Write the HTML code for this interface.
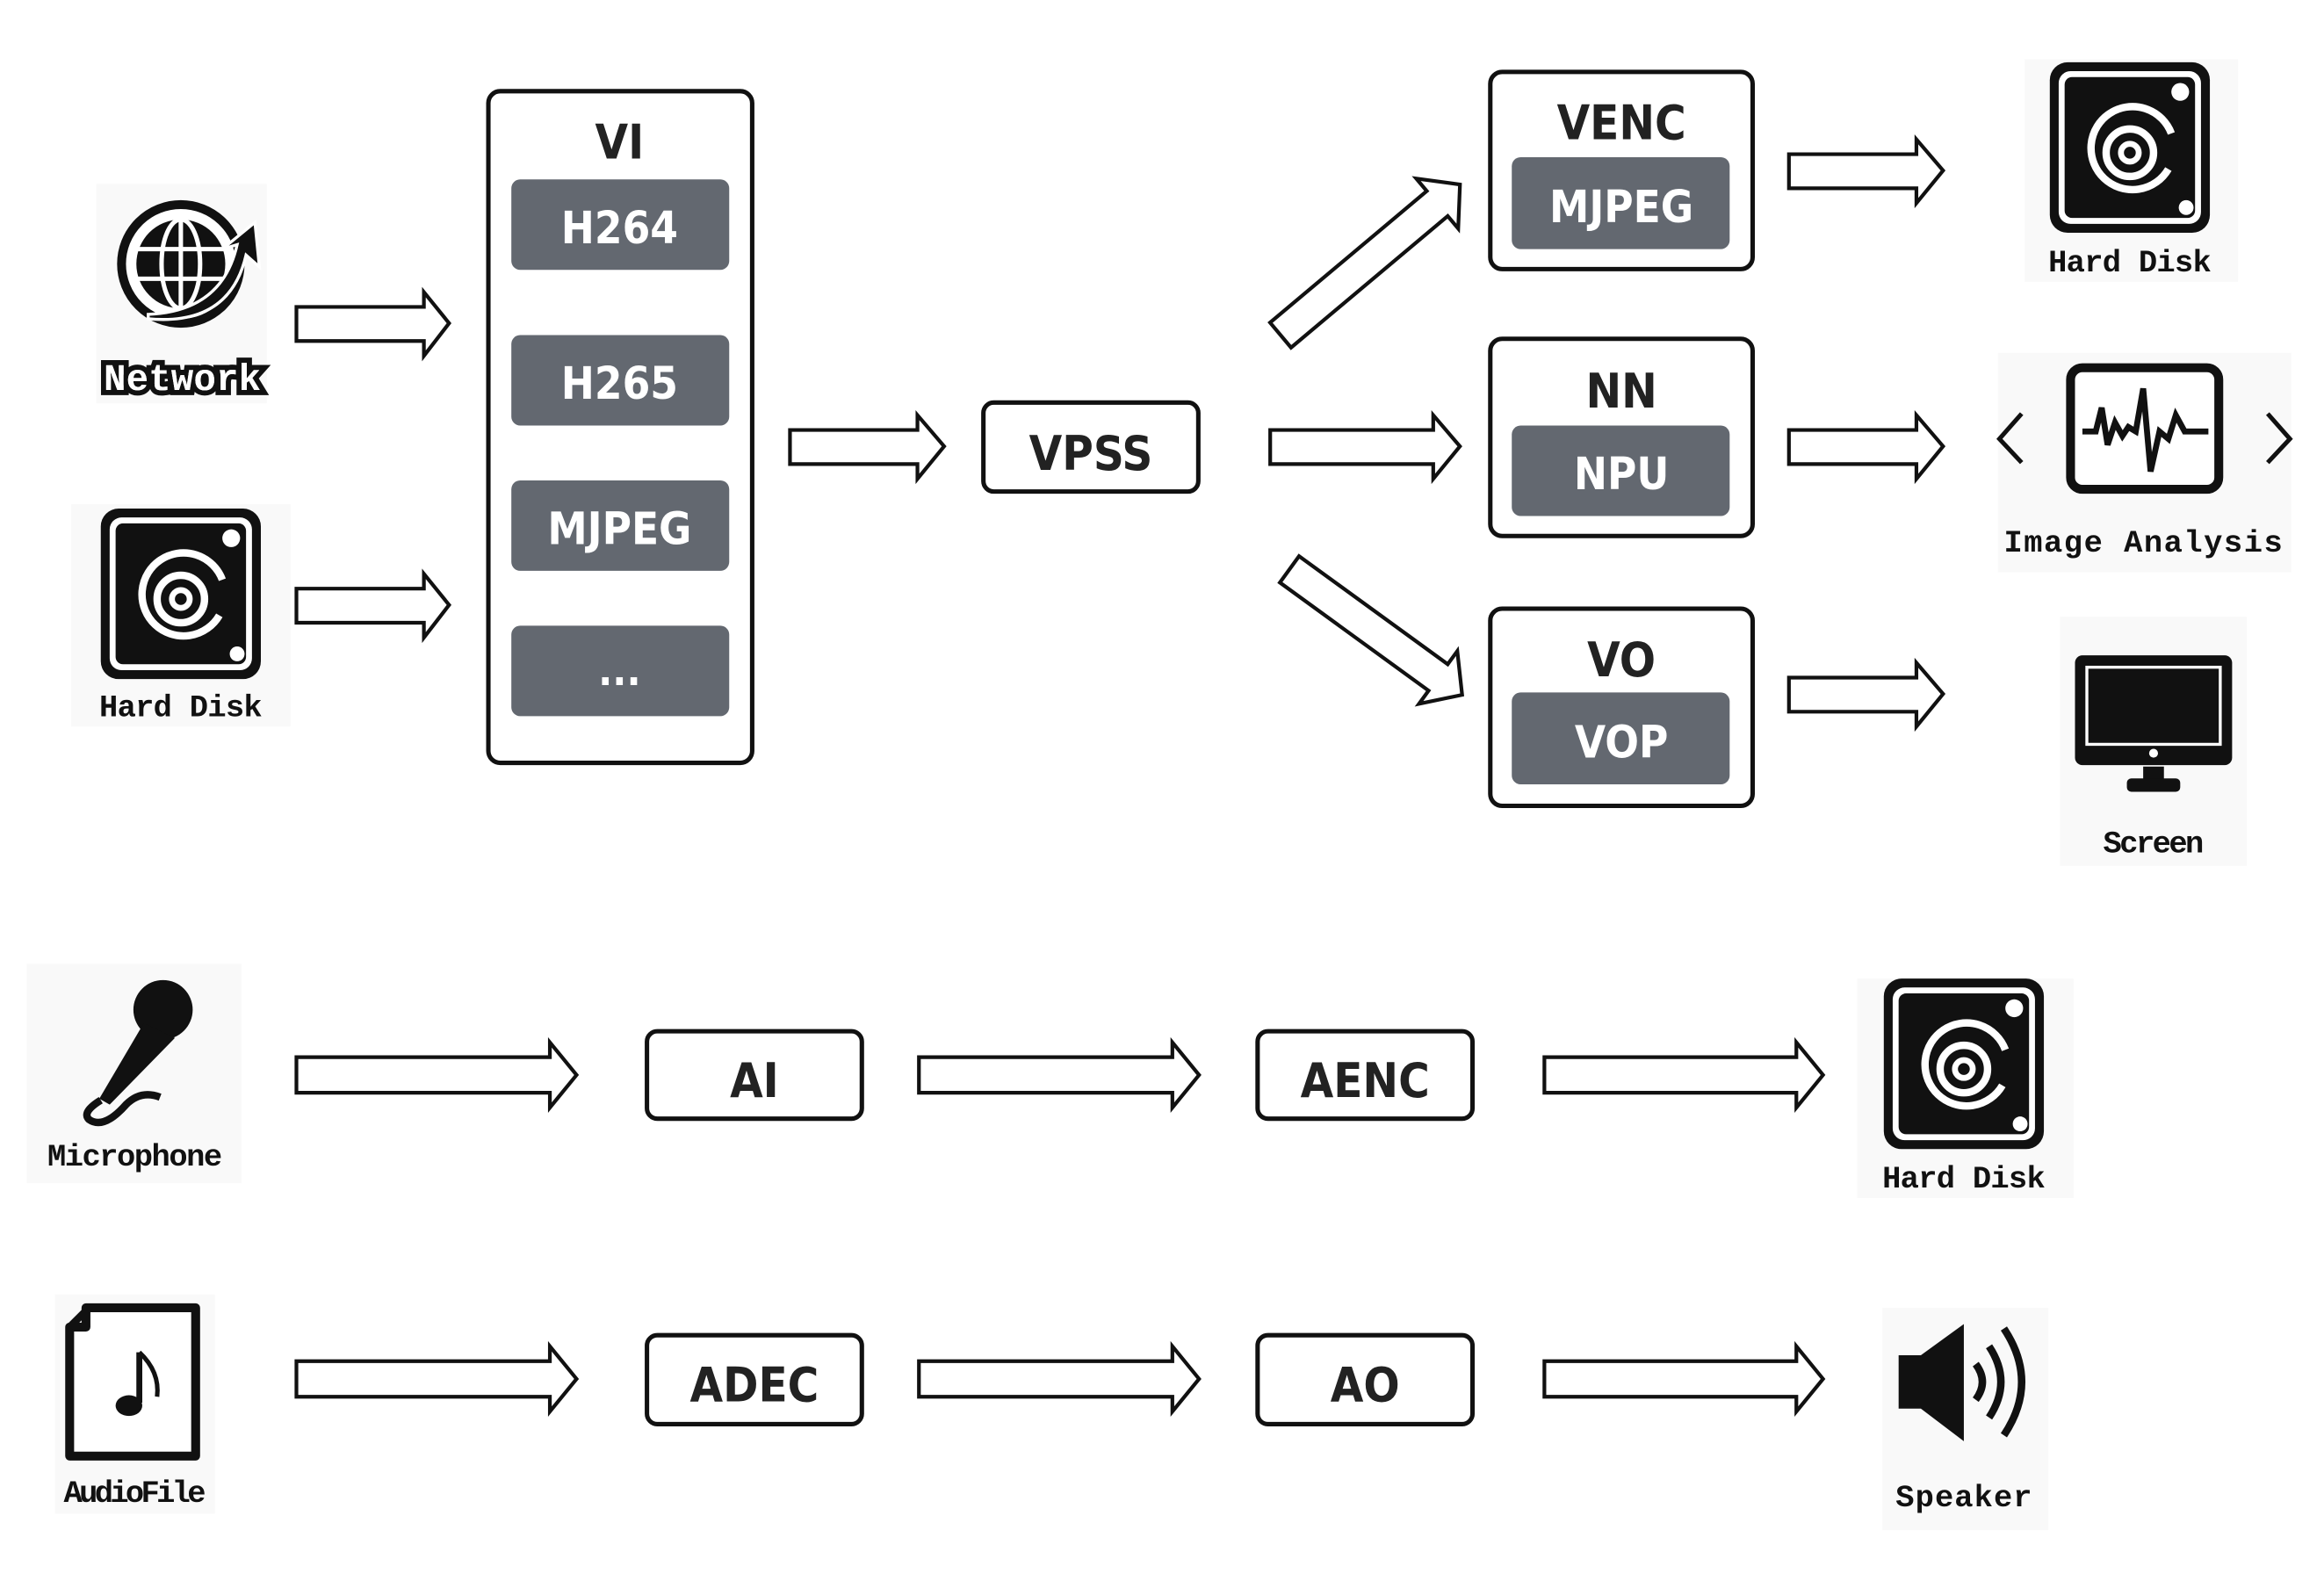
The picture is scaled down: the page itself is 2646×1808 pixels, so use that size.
<!DOCTYPE html>
<html><head><meta charset="utf-8"><style>
html,body{margin:0;padding:0;background:#fff;}
svg{display:block;}
.bx{fill:#fff;stroke:#111;stroke-width:3;}
.gb{fill:#636870;}
.t{font-family:"DejaVu Sans","Liberation Sans",sans-serif;font-weight:bold;text-anchor:middle;font-stretch:condensed;}
.lb{font-family:"Liberation Mono","DejaVu Sans Mono",monospace;font-weight:bold;text-anchor:middle;fill:#111;font-size:21px;}
.ar{fill:#fff;stroke:#111;stroke-width:2.5;stroke-linejoin:miter;}
.bgc{fill:#f9f9f9;}
</style></head><body>
<svg width="2646" height="1808" viewBox="0 0 1568 1071" preserveAspectRatio="none" xmlns="http://www.w3.org/2000/svg">
<defs>
<g id="hd">
  <rect x="0" y="0" width="108" height="115" rx="12" fill="#111"/>
  <rect x="6" y="6" width="96" height="103" rx="8" fill="#fff"/>
  <rect x="10" y="10" width="88" height="95" rx="5" fill="#111"/>
  <circle cx="88" cy="20" r="6" fill="#fff"/>
  <circle cx="92" cy="98" r="5" fill="#fff"/>
  <path d="M80,72 A28,28 0 1 1 82,48" fill="none" stroke="#fff" stroke-width="5"/>
  <circle cx="54" cy="61" r="16" fill="none" stroke="#fff" stroke-width="5"/>
  <circle cx="54" cy="61" r="6" fill="none" stroke="#fff" stroke-width="4"/>
</g>
</defs>

<rect class="bgc" x="65" y="124" width="115" height="148"/>
<rect class="bgc" x="48" y="340" width="148" height="150"/>
<rect class="bgc" x="1366" y="40" width="144" height="150"/>
<rect class="bgc" x="1348" y="238" width="198" height="148"/>
<rect class="bgc" x="1390" y="416" width="126" height="168"/>
<rect class="bgc" x="18" y="650" width="145" height="148"/>
<rect class="bgc" x="1253" y="660" width="146" height="148"/>
<rect class="bgc" x="37" y="873" width="108" height="148"/>
<rect class="bgc" x="1270" y="882" width="112" height="150"/>

<g>
  <circle cx="122" cy="178" r="40" fill="#fff" stroke="#111" stroke-width="6"/>
  <circle cx="122" cy="178" r="30" fill="#111"/>
  <g stroke="#fff" stroke-width="3" fill="none">
    <ellipse cx="122" cy="178" rx="13" ry="30"/>
    <line x1="122" y1="148" x2="122" y2="208"/>
    <line x1="93" y1="168" x2="151" y2="168"/>
    <line x1="93" y1="188" x2="151" y2="188"/>
  </g>
  <path d="M100,212 Q150,210 160,165 L150,168 L172,150 L175,180 L166,172 Q155,220 100,215 Z" fill="#111" stroke="#fff" stroke-width="2"/>
  <text x="123" y="263" font-family="Liberation Mono,monospace" font-weight="bold" font-size="25" text-anchor="middle" fill="#fff" stroke="#111" stroke-width="7" paint-order="stroke" textLength="106">Network</text>
  <text x="123" y="263" font-family="Liberation Mono,monospace" font-weight="bold" font-size="25" text-anchor="middle" fill="#fff" textLength="106">Network</text>
</g>

<use href="#hd" x="68" y="343"/>
<text class="lb" x="122" y="483" textLength="110">Hard Disk</text>

<polygon class="ar" points="200,207 286,207 286,197 303,218 286,240 286,230 200,230"/>
<polygon class="ar" points="200,397 286,397 286,387 303,408 286,430 286,420 200,420"/>
<polygon class="ar" points="533,290 619,290 619,280 637,301 619,323 619,313 533,313"/>
<polygon class="ar" points="857,290 967,290 967,280 985,301 967,323 967,313 857,313"/>
<polygon class="ar" points="1207,104 1293,104 1293,94 1311,115 1293,137 1293,127 1207,127"/>
<polygon class="ar" points="1207,290 1293,290 1293,280 1311,301 1293,323 1293,313 1207,313"/>
<polygon class="ar" points="1207,457 1293,457 1293,447 1311,468 1293,490 1293,480 1207,480"/>
<g transform="translate(864,226) rotate(-40)">
  <polygon class="ar" points="0,-11 138,-11 138,-22 158,0 138,22 138,11 0,11"/>
</g>
<g transform="translate(870,384) rotate(36)">
  <polygon class="ar" points="0,-11 124,-11 124,-22 144,0 124,22 124,11 0,11"/>
</g>
<polygon class="ar" points="200,713 371,713 371,703 389,725 371,747 371,737 200,737"/>
<polygon class="ar" points="620,713 791,713 791,703 809,725 791,747 791,737 620,737"/>
<polygon class="ar" points="1042,713 1212,713 1212,703 1230,725 1212,747 1212,737 1042,737"/>
<polygon class="ar" points="200,918 371,918 371,908 389,930 371,952 371,942 200,942"/>
<polygon class="ar" points="620,918 791,918 791,908 809,930 791,952 791,942 620,942"/>
<polygon class="ar" points="1042,918 1212,918 1212,908 1230,930 1212,952 1212,942 1042,942"/>

<rect class="bx" x="329.5" y="61.5" width="178" height="453" rx="8"/>
<text class="t" x="418" y="107" font-size="32" fill="#222">VI</text>
<rect class="gb" x="345" y="121" width="147" height="61" rx="6"/>
<text class="t" x="418" y="164" font-size="30" fill="#fff">H264</text>
<rect class="gb" x="345" y="226" width="147" height="61" rx="6"/>
<text class="t" x="418" y="269" font-size="30" fill="#fff">H265</text>
<rect class="gb" x="345" y="324" width="147" height="61" rx="6"/>
<text class="t" x="418" y="367" font-size="30" fill="#fff">MJPEG</text>
<rect class="gb" x="345" y="422" width="147" height="61" rx="6"/>
<text class="t" x="418" y="462" font-size="28" fill="#fff">...</text>

<rect class="bx" x="663.5" y="271.5" width="145" height="60" rx="7"/>
<text class="t" x="736" y="317" font-size="32" fill="#222">VPSS</text>

<rect class="bx" x="1005.5" y="48.5" width="177" height="133" rx="8"/>
<text class="t" x="1094" y="94" font-size="32" fill="#222">VENC</text>
<rect class="gb" x="1020" y="106" width="147" height="62" rx="6"/>
<text class="t" x="1094" y="150" font-size="30" fill="#fff">MJPEG</text>
<rect class="bx" x="1005.5" y="228.5" width="177" height="133" rx="8"/>
<text class="t" x="1094" y="275" font-size="32" fill="#222">NN</text>
<rect class="gb" x="1020" y="287" width="147" height="61" rx="6"/>
<text class="t" x="1094" y="330" font-size="30" fill="#fff">NPU</text>
<rect class="bx" x="1005.5" y="410.5" width="177" height="133" rx="8"/>
<text class="t" x="1094" y="456" font-size="32" fill="#222">VO</text>
<rect class="gb" x="1020" y="467" width="147" height="62" rx="6"/>
<text class="t" x="1094" y="511" font-size="30" fill="#fff">VOP</text>

<use href="#hd" x="1383" y="42"/>
<text class="lb" x="1437" y="183" textLength="110">Hard Disk</text>

<rect x="1397" y="248" width="100" height="82" rx="8" fill="#fff" stroke="#111" stroke-width="6"/>
<polyline points="1405,291 1414,291 1418,275 1422,300 1427,285 1432,294 1436,288 1441,291 1446,262 1451,318 1457,291 1463,296 1468,280 1474,291 1490,291" fill="none" stroke="#111" stroke-width="4"/>
<polyline points="1364,279 1349,296 1364,312" fill="none" stroke="#111" stroke-width="3"/>
<polyline points="1530,279 1545,296 1530,312" fill="none" stroke="#111" stroke-width="3"/>
<text class="lb" x="1446" y="372" textLength="188">Image Analysis</text>

<rect x="1400" y="442" width="106" height="74" rx="5" fill="#111"/>
<rect x="1408" y="450" width="90" height="52" fill="#111" stroke="#fff" stroke-width="2"/>
<circle cx="1453" cy="508" r="3" fill="#fff"/>
<rect x="1446" y="517" width="14" height="10" fill="#111"/>
<rect x="1435" y="525" width="36" height="9" rx="3" fill="#111"/>
<text class="lb" x="1453" y="575" textLength="68">Screen</text>

<g>
  <circle cx="110" cy="681" r="20" fill="#111"/>
  <polygon points="97,690 118,700 74,745 67,741" fill="#111"/>
  <path d="M68,742 Q55,750 60,755 Q70,762 85,745 Q95,735 108,740" fill="none" stroke="#111" stroke-width="5"/>
</g>
<text class="lb" x="91" y="786" textLength="118">Microphone</text>

<rect class="bx" x="436.5" y="695.5" width="145" height="59" rx="7"/>
<text class="t" x="509" y="740" font-size="32" fill="#222">AI</text>
<rect class="bx" x="848.5" y="695.5" width="145" height="59" rx="7"/>
<text class="t" x="921" y="740" font-size="32" fill="#222">AENC</text>
<use href="#hd" x="1271" y="660"/>
<text class="lb" x="1325" y="801" textLength="110">Hard Disk</text>

<path d="M58,882 L132,882 L132,982 L47,982 L47,895 L58,895 Z" fill="#fff" stroke="#111" stroke-width="6" stroke-linejoin="round"/>
<path d="M47,895 L58,884" stroke="#111" stroke-width="5"/>
<line x1="94" y1="912" x2="94" y2="946" stroke="#111" stroke-width="4"/>
<path d="M94,912 Q108,925 106,942" fill="none" stroke="#111" stroke-width="3"/>
<ellipse cx="87" cy="948" rx="9" ry="7" fill="#111"/>
<text class="lb" x="91" y="1013" textLength="96">AudioFile</text>

<rect class="bx" x="436.5" y="900.5" width="145" height="60" rx="7"/>
<text class="t" x="509" y="945" font-size="32" fill="#222">ADEC</text>
<rect class="bx" x="848.5" y="900.5" width="145" height="60" rx="7"/>
<text class="t" x="921" y="945" font-size="32" fill="#222">AO</text>

<polygon points="1281,914 1296,914 1325,893 1325,972 1296,950 1281,950" fill="#111"/>
<path d="M1333,920 Q1342,932 1333,944" fill="none" stroke="#111" stroke-width="5"/>
<path d="M1342,908 Q1358,932 1342,956" fill="none" stroke="#111" stroke-width="5"/>
<path d="M1352,896 Q1376,932 1352,968" fill="none" stroke="#111" stroke-width="5"/>
<text class="lb" x="1325" y="1016" font-size="24" textLength="92">Speaker</text>
</svg>
</body></html>
